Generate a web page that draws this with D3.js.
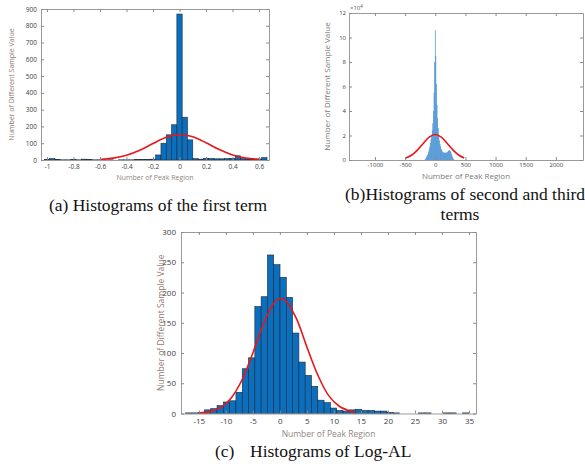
<!DOCTYPE html>
<html>
<head>
<meta charset="utf-8">
<script src="https://cdn.jsdelivr.net/npm/d3@7"></script>
<style>
  body { margin: 0; background: #fff; }
  svg { display: block; }
</style>
</head>
<body>
<div id="chart"></div>
<script>
// (a) first term: bin centres (width 0.04) and counts
const aBinCenters = [-1.00, -0.96, -0.92, -0.88, -0.84, -0.80, -0.76, -0.72, -0.68, -0.64, -0.60,
  -0.56, -0.52, -0.48, -0.44, -0.40, -0.36, -0.32, -0.28, -0.24, -0.20, -0.16, -0.12, -0.08, -0.04,
  0.00, 0.04, 0.08, 0.12, 0.16, 0.20, 0.24, 0.28, 0.32, 0.36, 0.40, 0.44, 0.48, 0.52, 0.56, 0.60, 0.64];
const aCounts = [2, 8, 3, 1, 1, 3, 1, 5, 2, 1, 1,
  0, 1, 0, 1, 1, 1, 2, 2, 3, 5, 30, 100, 150, 210,
  870, 255, 120, 8, 5, 10, 9, 7, 7, 8, 10, 25, 8, 5, 6, 6, 14];
// red fitted curve
const aFitX = [-0.6, -0.5, -0.4, -0.3, -0.2, -0.1, 0, 0.1, 0.2, 0.3, 0.4, 0.5, 0.6];
const aFitY = [3, 11, 28, 58, 98, 136, 152, 138, 103, 62, 30, 12, 4];
const aXTicks = [-1, -0.8, -0.6, -0.4, -0.2, 0, 0.2, 0.4, 0.6];
const aYTicks = [0, 100, 200, 300, 400, 500, 600, 700, 800, 900];

// (b) second and third terms: counts in units of 10^4, bins 10 wide centred -170..310
const bBinCenters = [-170, -160, -150, -140, -130, -120, -110, -100, -90, -80, -70, -60, -50, -40, -30, -20, -10,
  0, 10, 20, 30, 40, 50, 60, 70, 80, 90, 100, 110, 120, 130, 140, 150, 160, 170, 180, 190, 200,
  210, 220, 230, 240, 250, 260, 270, 280, 290, 300, 310];
const bCounts = [0.05, 0.1, 0.2, 0.3, 0.4, 0.5, 0.7, 0.9, 1.1, 1.4, 1.7, 2.0, 2.4, 3.0, 4.0, 5.5, 8.0,
  10.6, 8.5, 6.2, 4.5, 3.4, 2.6, 2.0, 1.6, 1.3, 1.1, 0.9, 0.8, 0.7, 0.65, 0.6, 0.6, 0.6, 0.6, 0.6, 0.6, 0.65,
  0.7, 0.75, 0.8, 0.8, 0.75, 0.65, 0.5, 0.35, 0.2, 0.1, 0.05];
const bFitX = [-500, -400, -300, -200, -100, 0, 100, 200, 300, 400, 480];
const bFitY = [0.14, 0.37, 0.79, 1.35, 1.87, 2.08, 1.87, 1.35, 0.79, 0.37, 0.17];
const bXTicks = [-1000, -500, 0, 500, 1000, 1500, 2000];
const bYTicks = [0, 2, 4, 6, 8, 10, 12];

// (c) Log-AL: 45 bins starting at -17.45, width 1.165
const cBinStart = -17.45, cBinWidth = 1.165;
const cCounts = [1, 1, 2, 6, 8, 13, 19, 21, 35, 74, 92, 177, 193, 262, 246, 225, 192, 133, 85, 63,
  45, 22, 18, 9, 5, 4, 6, 7, 5, 5, 4, 4, 2, 1, 0, 0, 0, 1, 1, 0, 0, 1, 1, 0, 1];
const cFitX = [-15, -13, -11, -9, -7, -5, -3, -1, 0, 1, 3, 5, 7, 9, 11, 13, 14];
const cFitY = [0.8, 3.1, 9.8, 25.7, 55.8, 100, 149, 184, 190, 187, 158, 110, 64, 30, 12, 4, 2];
const cXTicks = [-15, -10, -5, 0, 5, 10, 15, 20, 25, 30, 35];
const cYTicks = [0, 50, 100, 150, 200, 250, 300];

const W = 585, H = 464;
const svg = d3.select("#chart").append("svg").attr("width", W).attr("height", H);

const tickFont = "'Open Sans', 'Liberation Sans', sans-serif";

function panel(o) {
  const g = svg.append("g");
  const x = d3.scaleLinear().domain(o.xDomain).range([o.left, o.right]);
  const y = d3.scaleLinear().domain(o.yDomain).range([o.bottom, o.top]);

  // bars
  g.selectAll("rect.bar")
    .data(o.bins)
    .join("rect")
    .attr("class", "bar")
    .attr("x", d => x(d.x0))
    .attr("width", d => Math.max(x(d.x1) - x(d.x0), 0.1))
    .attr("y", d => y(d.v))
    .attr("height", d => y(0) - y(d.v))
    .attr("fill", o.barFill)
    .attr("stroke", o.barStroke)
    .attr("stroke-width", o.barStrokeWidth);

  // fitted curve
  g.append("path")
    .datum(d3.zip(o.fitX, o.fitY))
    .attr("fill", "none")
    .attr("stroke", "#e8161b")
    .attr("stroke-width", 1.6)
    .attr("d", d3.line().x(d => x(d[0])).y(d => y(d[1])).curve(d3.curveCatmullRom));

  const fmt = d => String(+(+d).toFixed(1));
  const axes = [
    [d3.axisBottom(x).tickValues(o.xTicks).tickFormat(fmt), o.bottom, "x"],
    [d3.axisTop(x).tickValues(o.xTicks).tickFormat(""), o.top, "x"],
    [d3.axisLeft(y).tickValues(o.yTicks).tickFormat(fmt), o.left, "y"],
    [d3.axisRight(y).tickValues(o.yTicks).tickFormat(""), o.right, "y"]
  ];
  axes.forEach(([ax, pos, dir]) => {
    const a = g.append("g")
      .attr("transform", dir === "x" ? `translate(0,${pos})` : `translate(${pos},0)`)
      .call(ax.tickSizeInner(-3).tickSizeOuter(0).tickPadding(o.pad));
    a.select(".domain").attr("stroke", "#9a9a9a");
    a.selectAll(".tick line").attr("stroke", "#8a8a8a");
    a.selectAll(".tick text")
      .attr("fill", "#3c3c3c")
      .style("font-family", tickFont)
      .style("font-size", o.tickSize + "px");
  });

  // y label
  g.append("text")
    .attr("transform", `translate(${o.yLabelX},${(o.top + o.bottom) / 2}) rotate(-90)`)
    .attr("text-anchor", "middle")
    .attr("fill", o.yLabelColor)
    .style("font-family", tickFont)
    .style("font-size", o.labelSize + "px")
    .text("Number of Different Sample Value");

  // x label
  g.append("text")
    .attr("x", (o.left + o.right) / 2)
    .attr("y", o.xLabelY)
    .attr("text-anchor", "middle")
    .attr("fill", o.xLabelColor)
    .style("font-family", tickFont)
    .style("font-size", o.labelSize + "px")
    .text("Number of Peak Region");
  return { g, x, y };
}

panel({
  left: 41, right: 269, top: 9, bottom: 160,
  xDomain: [-1.045, 0.675], yDomain: [0, 900],
  bins: aBinCenters.map((c, i) => ({ x0: c - 0.02, x1: c + 0.02, v: aCounts[i] })),
  fitX: aFitX, fitY: aFitY, xTicks: aXTicks, yTicks: aYTicks,
  barFill: "#0b6fbd", barStroke: "#1c2a3a", barStrokeWidth: 0.6,
  tickSize: 6.5, labelSize: 7, pad: 4,
  yLabelX: 14, xLabelY: 180, yLabelColor: "#8e7b6c", xLabelColor: "#8f8780"
});

const pb = panel({
  left: 349, right: 583, top: 13, bottom: 160,
  xDomain: [-1430, 2450], yDomain: [0, 12],
  bins: bBinCenters.map((c, i) => ({ x0: c - 5, x1: c + 5, v: bCounts[i] })),
  fitX: bFitX, fitY: bFitY, xTicks: bXTicks, yTicks: bYTicks,
  barFill: "#2a7fcc", barStroke: "none", barStrokeWidth: 0,
  tickSize: 6, labelSize: 8, pad: 3,
  yLabelX: 330, xLabelY: 179, yLabelColor: "#7a7a7a", xLabelColor: "#7a7a7a"
});
pb.g.append("text")
  .attr("x", 350).attr("y", 10)
  .attr("fill", "#555")
  .style("font-family", tickFont)
  .style("font-size", "6px")
  .html("\u00d710<tspan dy='-2' font-size='4.5px'>4</tspan>");

panel({
  left: 181, right: 476, top: 232, bottom: 413.5,
  xDomain: [-18.3, 36.3], yDomain: [0, 300],
  bins: cCounts.map((v, i) => ({ x0: cBinStart + i * cBinWidth, x1: cBinStart + (i + 1) * cBinWidth, v })),
  fitX: cFitX, fitY: cFitY, xTicks: cXTicks, yTicks: cYTicks,
  barFill: "#0b6fbd", barStroke: "#1c2a3a", barStrokeWidth: 0.6,
  tickSize: 8, labelSize: 8.5, pad: 5,
  yLabelX: 164, xLabelY: 437, yLabelColor: "#8e7b6c", xLabelColor: "#8f8780"
});

// captions
const capFont = "'Liberation Serif', 'Times New Roman', serif";
function caption(t, x, y, anchor) {
  svg.append("text").attr("x", x).attr("y", y)
    .attr("text-anchor", anchor || "middle")
    .attr("fill", "#111")
    .style("font-family", capFont)
    .style("font-size", "17.5px")
    .text(t);
}
caption("(a) Histograms of the first term", 158, 211);
caption("(b)Histograms of second and third", 345, 200, "start");
caption("terms", 460, 220);
caption("(c)", 215, 457, "start");
caption("Histograms of Log-AL", 250, 457, "start");
</script>
</body>
</html>
